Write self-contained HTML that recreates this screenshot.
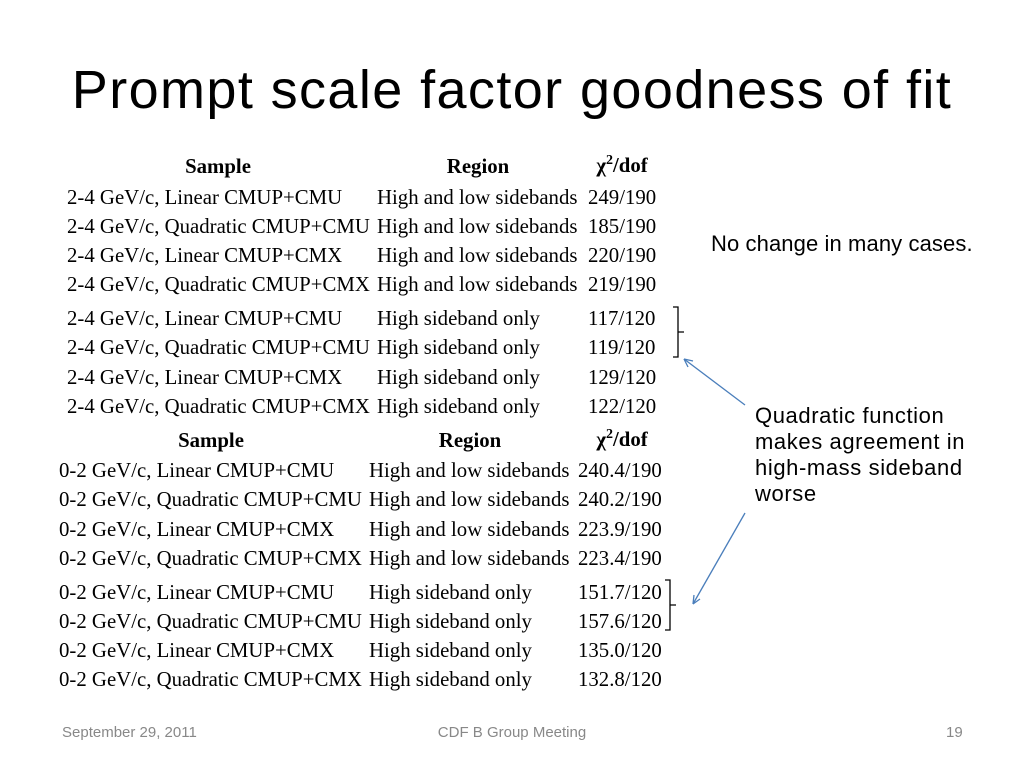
<!DOCTYPE html>
<html><head><meta charset="utf-8"><style>
body{margin:0;width:1024px;height:768px;background:#fff;position:relative;overflow:hidden;font-family:"Liberation Sans",sans-serif}
.t{position:absolute;white-space:nowrap}
.s{font-family:"Liberation Serif",serif;font-size:20.8px;color:#000}
.h{font-weight:bold}
.foot{font-size:15px;color:#888;top:724px}
</style></head><body>
<div class="t" style="left:0;width:1024px;text-align:center;top:59px;font-size:54px;letter-spacing:1.4px;color:#000">Prompt scale factor goodness of fit</div>
<div id="tables"></div>
<div class="t" style="left:711px;top:231px;font-size:22px;letter-spacing:0.1px">No change in many cases.</div>
<div class="t" style="left:755px;top:403px;font-size:22px;letter-spacing:0.6px;line-height:26px">Quadratic function<br>makes agreement in<br>high-mass sideband<br>worse</div>
<svg class="t" style="left:0;top:0" width="1024" height="768">
<g fill="none" stroke="#000" stroke-width="1.3">
<path d="M673,307 H678 V332 H684 M678,332 V357 H673"/>
<path d="M665,580 H670 V605 H676 M670,605 V630 H665"/>
</g>
<g stroke="#4a7ebb" stroke-width="1.3" fill="none">
<line x1="745" y1="405" x2="684" y2="359"/>
<path d="M684,359 l9,2 M684,359 l4,8"/>
<line x1="745" y1="513" x2="693" y2="604"/>
<path d="M693,604 l1,-9 M693,604 l7,-5"/>
</g></svg>
<div class="t foot" style="left:62px">September 29, 2011</div>
<div class="t foot" style="left:0;width:1024px;text-align:center">CDF B Group Meeting</div>
<div class="t foot" style="left:946px">19</div>
<script>
const t1Samples=["2-4 GeV/c, Linear CMUP+CMU","2-4 GeV/c, Quadratic CMUP+CMU","2-4 GeV/c, Linear CMUP+CMX","2-4 GeV/c, Quadratic CMUP+CMX","2-4 GeV/c, Linear CMUP+CMU","2-4 GeV/c, Quadratic CMUP+CMU","2-4 GeV/c, Linear CMUP+CMX","2-4 GeV/c, Quadratic CMUP+CMX"];
const t1Chi=["249/190","185/190","220/190","219/190","117/120","119/120","129/120","122/120"];
const t2Samples=t1Samples.map(s=>s.replace("2-4","0-2"));
const t2Chi=["240.4/190","240.2/190","223.9/190","223.4/190","151.7/120","157.6/120","135.0/120","132.8/120"];
const regions=["High and low sidebands","High and low sidebands","High and low sidebands","High and low sidebands","High sideband only","High sideband only","High sideband only","High sideband only"];
const root=document.getElementById('tables');
function txt(x,y,s,cls,center){const d=document.createElement('div');


d.className='t s '+(cls||'');d.textContent=s;d.style.top=(y-12)+'px';
if(center){d.style.left=(x-100)+'px';d.style.width='200px';d.style.textAlign='center';}else d.style.left=x+'px';
root.appendChild(d);return d;}
function table(ys,hy,xs,hx,samples,chis){
txt(hx[0],hy,'Sample','h',1);txt(hx[1],hy,'Region','h',1);
const c=txt(hx[2],hy-1,'','h',1);c.innerHTML='χ<span style="font-size:14px;position:relative;top:-8px">2</span>/dof';
ys.forEach((y,i)=>{txt(xs[0],y,samples[i]);txt(xs[1],y,regions[i]);txt(xs[2],y,chis[i]);});}
table([198,227,256,285,319,348,378,407],167,[67,377,588],[218,478,622],t1Samples,t1Chi);
table([471,500,530,559,593,622,651,680],441,[59,369,578],[211,470,622],t2Samples,t2Chi);
</script>
</body></html>
